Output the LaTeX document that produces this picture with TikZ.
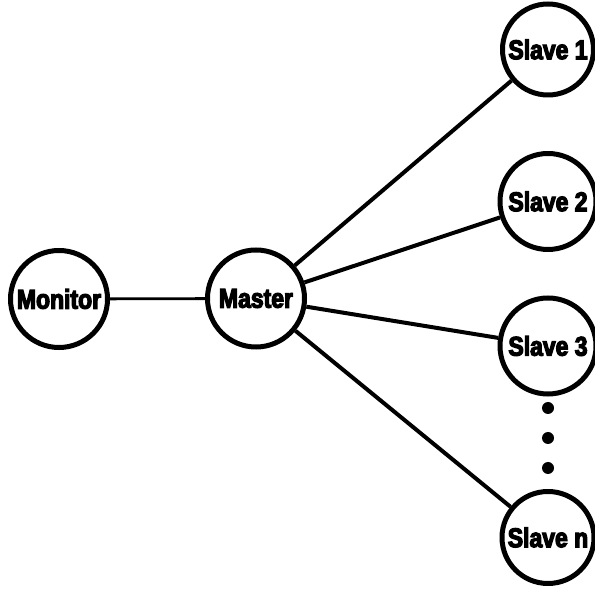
\documentclass[tikz,border=0pt]{standalone}
\usepackage{fontspec}
\setmainfont{Liberation Sans}
\newfontfamily\heavyfont[FakeBold=4.5,FakeStretch=0.85]{Liberation Sans Bold}
\begin{document}
\begin{tikzpicture}[x=1pt,y=1pt,
  unit/.style={circle,draw,line width=5pt,minimum size=96pt,inner sep=0pt,font=\heavyfont\fontsize{27}{29}\selectfont},
  link/.style={line width=4pt},
  dotmark/.style={circle,fill,inner sep=0pt,minimum size=12pt}]
\useasboundingbox (0,0) rectangle (595,592);
\node[unit,minimum size=97pt] (mon) at (59,293) {Monitor};
\node[unit,minimum size=97pt] (mas) at (256,293.5) {Master};
\node[unit,minimum size=91pt] (s1) at (548,542.5) {Slave 1};
\node[unit] (s2) at (548,390.5) {Slave 2};
\node[unit] (s3) at (548,246) {Slave 3};
\node[unit,minimum size=92pt] (sn) at (548,54.5) {Slave n};
\node[dotmark] (d1) at (548,184) {};
\node[dotmark] (d2) at (548,154) {};
\node[dotmark] (d3) at (548,124) {};
\draw[line width=2.8pt] (mon) -- (mas);
\draw[link] (mas) -- (s1);
\draw[link] (mas) -- (s2);
\draw[link] (mas) -- (s3);
\draw[link] (mas) -- (sn);
\end{tikzpicture}
\end{document}
